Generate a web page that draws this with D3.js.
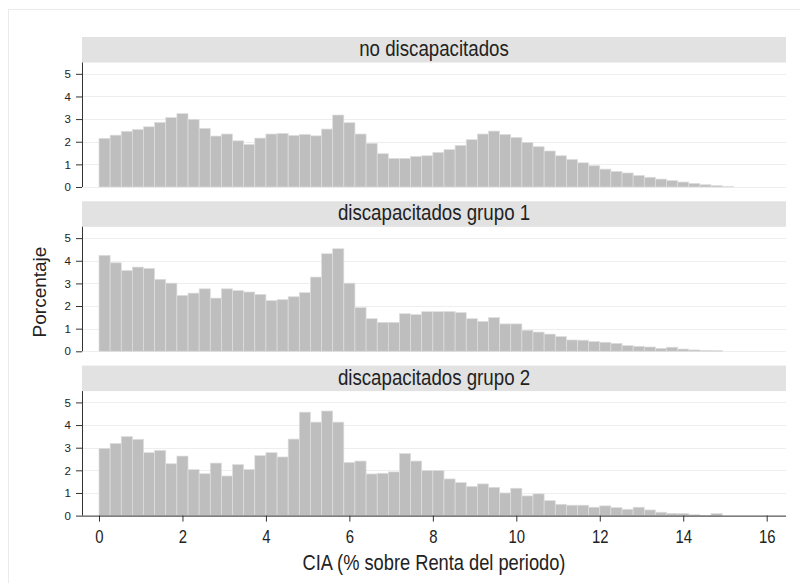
<!DOCTYPE html>
<html>
<head>
<meta charset="utf-8">
<script src="https://cdn.jsdelivr.net/npm/d3@7"></script>
<style>
  body { margin: 0; background: #fff; }
  svg { display: block; font-family: "Liberation Sans", Arial, sans-serif; }
</style>
</head>
<body>
<div id="chart"></div>
<script>
// Data
const panels = ['no discapacitados', 'discapacitados grupo 1', 'discapacitados grupo 2'];
const binWidth = 4 / 15;

const noDisc = [2.15, 2.29, 2.46, 2.54, 2.66, 2.85, 3.07, 3.24, 2.99, 2.59,
  2.25, 2.34, 2.04, 1.88, 2.16, 2.34, 2.37, 2.28, 2.32, 2.26,
  2.56, 3.18, 2.84, 2.34, 1.93, 1.47, 1.26, 1.26, 1.35, 1.38,
  1.53, 1.65, 1.84, 2.09, 2.34, 2.47, 2.32, 2.19, 1.97, 1.78,
  1.59, 1.38, 1.22, 1.07, 0.94, 0.79, 0.69, 0.62, 0.51, 0.43,
  0.35, 0.28, 0.22, 0.16, 0.10, 0.06, 0.02];

const grupo1 = [4.24, 3.91, 3.57, 3.72, 3.66, 3.18, 3.01, 2.47, 2.57, 2.76,
  2.35, 2.76, 2.68, 2.62, 2.51, 2.24, 2.28, 2.41, 2.59, 3.28,
  4.31, 4.53, 3.01, 1.93, 1.44, 1.28, 1.28, 1.66, 1.62, 1.75,
  1.75, 1.76, 1.71, 1.44, 1.32, 1.49, 1.21, 1.21, 0.93, 0.85,
  0.76, 0.65, 0.50, 0.49, 0.43, 0.40, 0.35, 0.25, 0.22, 0.19,
  0.13, 0.18, 0.10, 0.06, 0.04, 0.03];

const grupo2 = [2.97, 3.19, 3.49, 3.37, 2.78, 2.88, 2.29, 2.63, 2.03, 1.85,
  2.32, 1.75, 2.25, 2.04, 2.65, 2.78, 2.59, 3.38, 4.57, 4.13,
  4.62, 4.13, 2.35, 2.41, 1.84, 1.87, 1.93, 2.74, 2.41, 1.99,
  1.99, 1.62, 1.46, 1.29, 1.40, 1.25, 1.00, 1.21, 0.87, 0.96,
  0.66, 0.50, 0.46, 0.46, 0.37, 0.43, 0.35, 0.28, 0.37, 0.25,
  0.15, 0.10, 0.09, 0.04, 0.01, 0.09];

const series = [noDisc, grupo1, grupo2];
const xTicks = [0, 2, 4, 6, 8, 10, 12, 14, 16];
const yTicks = [0, 1, 2, 3, 4, 5];

// Layout
const width = 800;
const height = 583;
const plot = { l: 82, r: 786 };
const panelTop = 37;
const panelStep = 164.3;
const stripH = 25.5;
const plotH = 124.5;
// the reference text is a bit narrow, squeeze it horizontally
const squeeze = 'scale(0.85, 1)';

const svg = d3
  .select('#chart')
  .append('svg')
  .attr('width', width)
  .attr('height', height);

// outer frame
svg
  .append('rect')
  .attr('x', 8.5)
  .attr('y', 9.5)
  .attr('width', 820)
  .attr('height', 620)
  .attr('fill', '#fff')
  .attr('stroke', '#ebebeb');

const x = d3.scaleLinear([0, 16], [99, 766.7]);

panels.forEach((name, i) => {
  const top = panelTop + i * panelStep;
  const y0 = top + stripH;
  const y1 = y0 + plotH;
  const y = d3.scaleLinear([0, 5.5], [y1, y0]);

  const g = svg.append('g');

  // strip
  g.append('rect')
    .attr('x', plot.l)
    .attr('y', top)
    .attr('width', plot.r - plot.l)
    .attr('height', stripH)
    .attr('fill', '#e2e2e2');

  g.append('text')
    .attr('transform', `translate(${(plot.l + plot.r) / 2}, ${top + 19}) ${squeeze}`)
    .attr('text-anchor', 'middle')
    .attr('font-size', 22)
    .attr('fill', '#222')
    .text(name);

  // grid
  g.append('g')
    .selectAll('line')
    .data(yTicks)
    .join('line')
    .attr('x1', plot.l)
    .attr('x2', plot.r)
    .attr('y1', (d) => Math.round(y(d)) + 0.5)
    .attr('y2', (d) => Math.round(y(d)) + 0.5)
    .attr('stroke', '#eeeeee');

  // bars
  g.append('g')
    .selectAll('rect')
    .data(series[i])
    .join('rect')
    .attr('x', (d, j) => x(j * binWidth))
    .attr('width', x(binWidth) - x(0))
    .attr('y', (d) => y(d))
    .attr('height', (d) => y(0) - y(d))
    .attr('fill', '#bebebe')
    .attr('stroke', '#dedede')
    .attr('stroke-width', 0.7);

  // y axis
  const ya = g
    .append('g')
    .attr('transform', `translate(${plot.l}, 0)`)
    .call(
      d3.axisLeft(y).tickValues(yTicks).tickFormat(d3.format('d'))
        .tickSize(6).tickPadding(5).tickSizeOuter(0)
    );
  ya.select('.domain').attr('stroke', '#333').attr('d', `M0.5,${y1}V${y0}`);
  ya.selectAll('.tick line').attr('stroke', '#333');
  ya.selectAll('text')
    .attr('font-family', null)
    .attr('font-size', 11.5)
    .attr('fill', '#222');

  // x axis on the last panel only
  if (i === panels.length - 1) {
    const xa = g
      .append('g')
      .attr('transform', `translate(0, ${y1})`)
      .call(d3.axisBottom(x).tickValues(xTicks).tickSize(6).tickSizeOuter(0));
    xa.select('.domain').attr('stroke', '#333').attr('d', `M${plot.l},0.5H${plot.r}`);
    xa.selectAll('.tick line').attr('stroke', '#333');
    xa.selectAll('text')
      .attr('font-family', null)
      .attr('font-size', 17.5)
      .attr('fill', '#222')
      .attr('y', 27.5)
      .attr('dy', null)
      .attr('transform', squeeze);
  }
});

// axis titles
svg
  .append('text')
  .attr('transform', `translate(${(plot.l + plot.r) / 2}, 570) ${squeeze}`)
  .attr('text-anchor', 'middle')
  .attr('font-size', 21.5)
  .attr('fill', '#222')
  .text('CIA (% sobre Renta del periodo)');

svg
  .append('text')
  .attr('transform', 'translate(46, 292) rotate(-90)')
  .attr('text-anchor', 'middle')
  .attr('font-size', 19)
  .attr('fill', '#222')
  .text('Porcentaje');
</script>
</body>
</html>
